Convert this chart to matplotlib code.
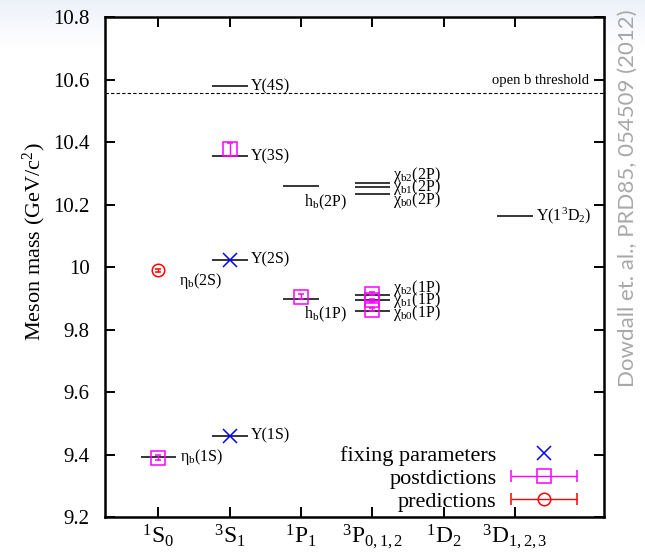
import numpy as np
import matplotlib
matplotlib.use("Agg")
import matplotlib.pyplot as plt
from matplotlib.lines import Line2D
from matplotlib.legend_handler import HandlerErrorbar

plt.rcParams['font.family'] = ['Liberation Serif', 'DejaVu Serif']
plt.rcParams['mathtext.fontset'] = 'custom'
plt.rcParams['mathtext.rm'] = 'Liberation Serif'
plt.rcParams['mathtext.it'] = 'Liberation Serif:italic'
plt.rcParams['mathtext.bf'] = 'Liberation Serif:bold'

# spectroscopic columns
columns = [1, 2, 3, 4, 5, 6]
column_labels = [r'$\mathrm{{}^1S_0}$', r'$\mathrm{{}^3S_1}$', r'$\mathrm{{}^1P_1}$',
                 r'$\mathrm{{}^3P_{0,1,2}}$', r'$\mathrm{{}^1D_2}$', r'$\mathrm{{}^3D_{1,2,3}}$']

# experimental levels (GeV)
exp_names = [r'$\mathrm{η_b(1S)}$', 'Υ(1S)', 'Υ(2S)', 'Υ(3S)', 'Υ(4S)',
             r'$\mathrm{h_b(1P)}$', r'$\mathrm{h_b(2P)}$',
             r'$\mathrm{χ_{b0}(1P)}$', r'$\mathrm{χ_{b1}(1P)}$', r'$\mathrm{χ_{b2}(1P)}$',
             r'$\mathrm{χ_{b0}(2P)}$', r'$\mathrm{χ_{b1}(2P)}$', r'$\mathrm{χ_{b2}(2P)}$',
             r'$\mathrm{Υ(1^3D_2)}$']
exp_col = [1, 2, 2, 2, 2, 3, 3, 4, 4, 4, 4, 4, 4, 6]
exp_mass = [9.391, 9.460, 10.023, 10.355, 10.579, 9.899, 10.260,
            9.859, 9.893, 9.912, 10.233, 10.256, 10.269, 10.164]

threshold = 10.558

# lattice results
fix_col = [2, 2]
fix_mass = [9.460, 10.023]

post_col = [1, 2, 3, 4, 4, 4]
post_mass = [9.390, 10.377, 9.905, 9.864, 9.893, 9.915]
post_err = [0.008, 0.021, 0.008, 0.006, 0.006, 0.006]

pred_col = [1]
pred_mass = [9.990]
pred_err = [0.005]

fig = plt.figure(figsize=(6.45, 5.58), dpi=100)

# faint slide background at the top
bg = fig.add_axes([0, 0, 1, 1], zorder=-10)
grad = np.linspace(0, 1, 200).reshape(-1, 1)
top = np.array([0.93, 0.95, 0.98])
img = top + (1 - top) * np.clip(grad * 12, 0, 1)[:, :, None]
bg.imshow(img, extent=[0, 1, 0, 1], aspect='auto', origin='upper')
bg.axis('off')

ax = fig.add_axes([105 / 645, 1 - 517 / 558, 499 / 645, 500 / 558])
ax.set_facecolor('white')

lab_fs = 11.5

# experimental levels
col = np.array(exp_col, dtype=float)
ax.hlines(exp_mass, col - 0.25, col + 0.25, color='black', lw=1.1, zorder=2)

# level labels
plain = [0, 1, 2, 3, 4, 13]
for i in plain:
    ax.text(exp_col[i] + 0.3, exp_mass[i], exp_names[i], fontsize=lab_fs,
            va='center', ha='left')
for i in (5, 6):
    ax.text(exp_col[i] + 0.04, exp_mass[i] - 0.052, exp_names[i], fontsize=lab_fs,
            va='center', ha='left')
for group in ((7, 8, 9), (10, 11, 12)):
    mid = exp_mass[group[1]]
    for k, i in enumerate(group):
        ax.text(exp_col[i] + 0.29, mid + (k - 1) * 0.04, exp_names[i], fontsize=lab_fs,
                va='center', ha='left')
ax.text(pred_col[0] + 0.29, pred_mass[0] - 0.036, r'$\mathrm{η_b(2S)}$', fontsize=lab_fs,
        va='center', ha='left')

# open b threshold
ax.axhline(threshold, color='black', lw=0.8, ls=(0, (3, 2)), zorder=1)
ax.text(0.97, threshold + 0.04, 'open b threshold', transform=ax.get_yaxis_transform(),
        fontsize=10.5, ha='right', va='center')

# lattice points
ax.plot(fix_col, fix_mass, ls='none', marker='x', ms=10, mew=1.1, color='blue', zorder=4)
ax.errorbar(post_col, post_mass, yerr=post_err, fmt='s', ms=10, mfc='none', mec='magenta',
            mew=1.1, ecolor='magenta', elinewidth=1, capsize=2.5, capthick=1, zorder=4)
ax.errorbar(pred_col, pred_mass, yerr=pred_err, fmt='o', ms=9, mfc='none', mec='red',
            mew=1.1, ecolor='red', elinewidth=1, capsize=2.5, capthick=1, zorder=4)

# legend entries
h_fix = Line2D([], [], ls='none', marker='x', ms=10, mew=1.1, color='blue')
h_post = ax.errorbar([np.nan], [np.nan], xerr=[0.1], fmt='s', ms=10, mfc='none',
                     mec='magenta', mew=1.1, ecolor='magenta', elinewidth=1,
                     capsize=4, capthick=1)
h_pred = ax.errorbar([np.nan], [np.nan], xerr=[0.1], fmt='o', ms=9, mfc='none',
                     mec='red', mew=1.1, ecolor='red', elinewidth=1,
                     capsize=4, capthick=1)
ax.legend([h_fix, h_post, h_pred], ['fixing parameters', 'postdictions', 'predictions'],
          loc='lower right', bbox_to_anchor=(0.948, 0.01), frameon=False,
          markerfirst=False, fontsize=16, handlelength=3.06, handletextpad=0.6,
          labelspacing=0.12, borderpad=0, borderaxespad=0,
          handler_map={type(h_post): HandlerErrorbar(xerr_size=1.5)})

ax.set_xlim(0.25, 7.25)
ax.set_ylim(9.2, 10.8)
ax.set_xticks(columns)
ax.set_xticklabels(column_labels, fontsize=17)
ax.set_yticks(np.arange(9.2, 10.81, 0.2))
ax.set_yticklabels(['%g' % round(v, 1) for v in np.arange(9.2, 10.81, 0.2)], fontsize=15)
ax.tick_params(direction='in', length=7, width=1.4, top=True, right=True)
ax.tick_params(axis='y', pad=11)
ax.tick_params(axis='x', pad=4)
for s in ax.spines.values():
    s.set_linewidth(1.8)

ax.set_ylabel('Meson mass (GeV/c$^2$)', fontsize=16)
ax.yaxis.set_label_coords(-0.114, 0.55)

fig.text(0.974, 0.645, 'Dowdall et. al., PRD85, 054509 (2012)', rotation=90,
         ha='center', va='center', fontsize=16, color='#a8a8a8', family='Lato')

fig.savefig('out.png', dpi=100)
